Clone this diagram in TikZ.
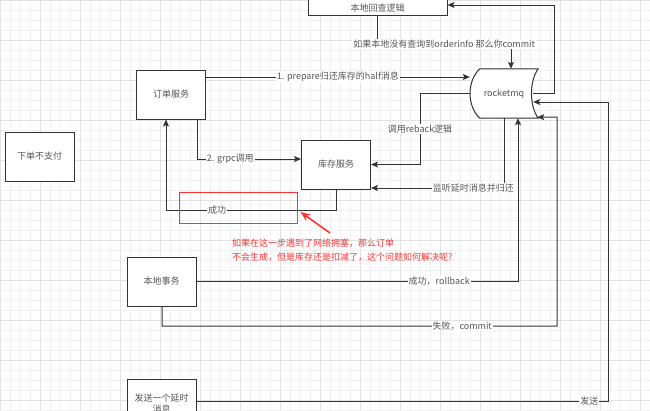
\documentclass[tikz,border=0pt]{standalone}
\usepackage{fontspec}
\setmainfont{Noto Sans CJK SC}
\usetikzlibrary{arrows.meta}
\definecolor{linegray}{HTML}{333333}
\definecolor{textgray}{HTML}{555555}
\definecolor{gridgray}{HTML}{F0F0F0}
\definecolor{gridmajor}{HTML}{E2E2E2}
\definecolor{notered}{HTML}{FF3333}
\begin{document}
\begin{tikzpicture}[x=1pt,y=-1pt,>={Stealth[length=7pt,width=6pt,inset=1.5pt]},font=\fontsize{9}{11}\selectfont,
    box/.style={draw=linegray,line width=1pt,fill=white,minimum width=69pt,minimum height=49pt,inner sep=2pt,text=textgray},
    lbl/.style={fill=white,inner sep=1pt,text=textgray},
    arr/.style={->,draw=linegray,line width=1pt},
    gridline/.style={draw=gridgray,line width=0.5pt},
    gridbold/.style={draw=gridmajor,line width=0.5pt},
    redbox/.style={draw=notered,line width=1pt,minimum width=118pt,minimum height=31pt,inner sep=0pt},
    notearr/.style={-{Stealth[length=10pt,width=8pt]},draw=notered,line width=1.6pt},
    note/.style={text=notered,align=left,inner sep=0pt,font=\fontsize{9}{14}\selectfont}]
    \useasboundingbox (0,0) rectangle (650,410);
    \clip (0,0) rectangle (650,410);
    \fill[white] (0,0) rectangle (650,410);

    % Grid
    \foreach \gx in {0,10,...,650} \draw[gridline] (\gx,0) -- (\gx,410);
    \foreach \gy in {0,10,...,410} \draw[gridline] (0,\gy) -- (650,\gy);
    \foreach \gx in {0,40,...,650} \draw[gridbold] (\gx,0) -- (\gx,410);
    \foreach \gy in {0,40,...,410} \draw[gridbold] (0,\gy) -- (650,\gy);

    % Boxes
    \node[box,minimum width=139pt,minimum height=0pt,text height=30pt,text depth=2pt,anchor=south] (check) at (377.5,16) {本地回查逻辑};
    \node[box] (order) at (171,94.5) {订单服务};
    \node[box] (stock) at (336,164.5) {库存服务};
    \node[box] (unpaid) at (39.5,156.5) {下单不支付};
    \node[box] (local) at (161.5,281.5) {本地事务};
    \node[box,align=center] (delay) at (161.5,403.5) {发送一个延时\\消息};

    % rocketmq
    \node[minimum width=68pt,minimum height=49pt,text=textgray] (mq) at (504,93.5) {};
    \draw[draw=linegray,line width=1pt,fill=white] ([xshift=10pt]mq.north west) -- (mq.north east)
        .. controls ([xshift=-9pt,yshift=-12pt]mq.north east) and ([xshift=-9pt,yshift=12pt]mq.south east) .. (mq.south east)
        -- ([xshift=10pt]mq.south west)
        .. controls ([xshift=-3pt,yshift=12pt]mq.south west) and ([xshift=-3pt,yshift=-12pt]mq.north west) .. cycle;
    \node[text=textgray] at (mq) {rocketmq};

    % Connectors
    \draw[arr] ([xshift=-5pt]mq.east) -- (554,93.5) -- (554,5) -- (check.east |- 0,5);
    \draw[arr] (check.south) -- (377.5,44) -- node[lbl] {如果本地没有查询到orderinfo 那么你commit} (511,44) -- (mq.north -| 511,0);
    \draw[arr] (order.east |- 0,77) -- node[lbl] {1. prepare归还库存的half消息} (mq.west |- 0,77);
    \draw[arr] (order.south -| 197,0) -- (197,159) -- node[lbl,pos=0.32] {2. grpc调用} (stock.west |- 0,159);
    \draw[arr] (stock.south) -- (336,210) -- node[lbl,pos=0.7] {成功} (166,210) -- (order.south -| 166,0);
    \draw[arr] (mq.west) -- (420,93.5) -- node[lbl] {调用reback逻辑} (420,164.5) -- (stock.east);
    \draw[arr] (mq.south) -- (504,188) -- node[lbl,pos=0.23] {监听延时消息并归还} (stock.east |- 0,188);
    \draw[arr] (local.east) -- node[lbl,pos=0.755] {成功，rollback} (518,281.5) -- (mq.south -| 518,0);
    \draw[arr] (local.south -| 162,0) -- (162,326) -- node[lbl,pos=0.76] {失败，commit} (557,326) -- (557,117) -- ([xshift=-1pt,yshift=1pt]mq.south east);
    \draw[arr] (delay.east |- 0,401) -- node[lbl,pos=0.955] {发送} (608,401) -- (608,102) -- ([xshift=-5pt,yshift=-8.5pt]mq.east);

    % Red note
    \node[redbox] (hl) at (238,207.5) {};
    \coordinate (tail) at (330,233);
    \draw[notearr] (tail) -- ([xshift=3pt,yshift=-4.5pt]hl.east);
    \node[note,anchor=north west] (question) at (232,238.5) {如果在这一步遇到了网络拥塞，那么订单\\不会生成，但是库存还是扣减了，这个问题如何解决呢?};
\end{tikzpicture}
\end{document}
